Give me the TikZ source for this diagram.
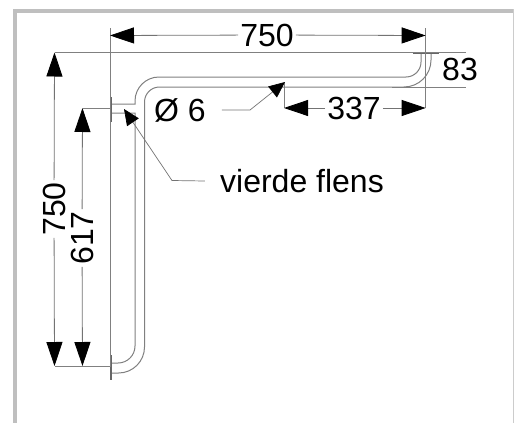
\documentclass[tikz,border=0pt]{standalone}
\usepackage{fontspec}
\setmainfont{Liberation Sans}
\usetikzlibrary{arrows.meta}

\tikzset{
	framebar/.style={fill=black!25, draw=none},
	tubeline/.style={draw=black!50, line width=1pt},
	flangeline/.style={draw=black!60, line width=1.3pt},
	extline/.style={draw=black!50, line width=0.8pt},
	dimline/.style={draw=black!55, line width=0.8pt, -{Triangle[length=24pt, width=16pt, color=black]}},
	leaderline/.style={draw=black!55, line width=0.7pt, -{Triangle[length=16pt, width=14pt, color=black]}},
	dimlabel/.style={inner sep=2pt, font=\fontsize{32}{36}\selectfont},
}

\begin{document}
\begin{tikzpicture}[x=1pt, y=-1pt]
	\useasboundingbox (0,0) rectangle (514,423);

	% The frame
	\fill[framebar] (13,9) rectangle (514,13);
	\fill[framebar] (13,9) rectangle (17,423);
	\draw[black!20, line width=0.8pt] (513.5,9) -- (513.5,423);

	% The tube
	\draw[tubeline] (111,104) -- (135,104)
	    [rounded corners=24pt] -- (135,77)
	    [rounded corners=15pt] -- (421,77)
	    [sharp corners] -- (421,54);
	\draw[tubeline] (111,113) -- (135,113)
	    [rounded corners=17pt] -- (135,363)
	    [sharp corners] -- (111,363);
	\draw[tubeline] (111,373)
	    [rounded corners=26pt] -- (144.5,373)
	    [rounded corners=15pt] -- (144.5,87)
	    [rounded corners=27pt] -- (431,87)
	    [sharp corners] -- (431,54);

	% The flanges
	\foreach \ya/\yb in {97/122, 355/380}{
		\draw[flangeline] (111,\ya) -- (111,\yb);
	}
	\draw[flangeline] (413,53) -- (439,53);

	% Reference points
	\coordinate (topleft) at (110,35.5);
	\coordinate (topright) at (425.7,35.5);
	\coordinate (outertop) at (54.5,52.5);
	\coordinate (outerbottom) at (54.5,366);
	\coordinate (innertop) at (82.5,108);
	\coordinate (innerbottom) at (82.5,366);
	\coordinate (runleft) at (284,108);
	\coordinate (runright) at (425.7,108);
	\coordinate (holetip) at (285,82);
	\coordinate (holebend) at (250,110);
	\coordinate (flangetip) at (124,109);
	\coordinate (flangebend) at (172,180.5);

	% Extension lines
	\draw[extline] (110,28) -- (110,366) -- (outerbottom);
	\draw[extline] (outertop) -- (466,52.5);
	\draw[extline] (innertop) -- (110,108);
	\draw[extline] (392,87) -- (466,87);
	\draw[extline] (425.7,28) -- (runright);
	\draw[extline] (runleft) -- (284,82);

	% The labels
	\node[dimlabel] (width) at (267,35) {750};
	\node[dimlabel, rotate=90] (height) at (54,209) {750};
	\node[dimlabel, rotate=90] (inner) at (82,238) {617};
	\node[dimlabel] (run) at (354,108) {337};
	\node[dimlabel] (drop) at (460,69) {83};
	\node[dimlabel] (hole) at (180,110) {Ø 6};
	\node[dimlabel] (flange) at (302,181) {vierde flens};

	% The dimensions
	\foreach \from/\to in {width/topleft, width/topright, height/outertop, height/outerbottom,
	    inner/innertop, inner/innerbottom, run/runleft, run/runright}{
		\draw[dimline] (\from) -- (\to);
	}

	% The leaders
	\draw[leaderline] (hole.east) ++(14,0) -- (holebend) -- (holetip);
	\draw[leaderline] (flange.west) ++(-13,0) -- (flangebend) -- (flangetip);
\end{tikzpicture}
\end{document}
